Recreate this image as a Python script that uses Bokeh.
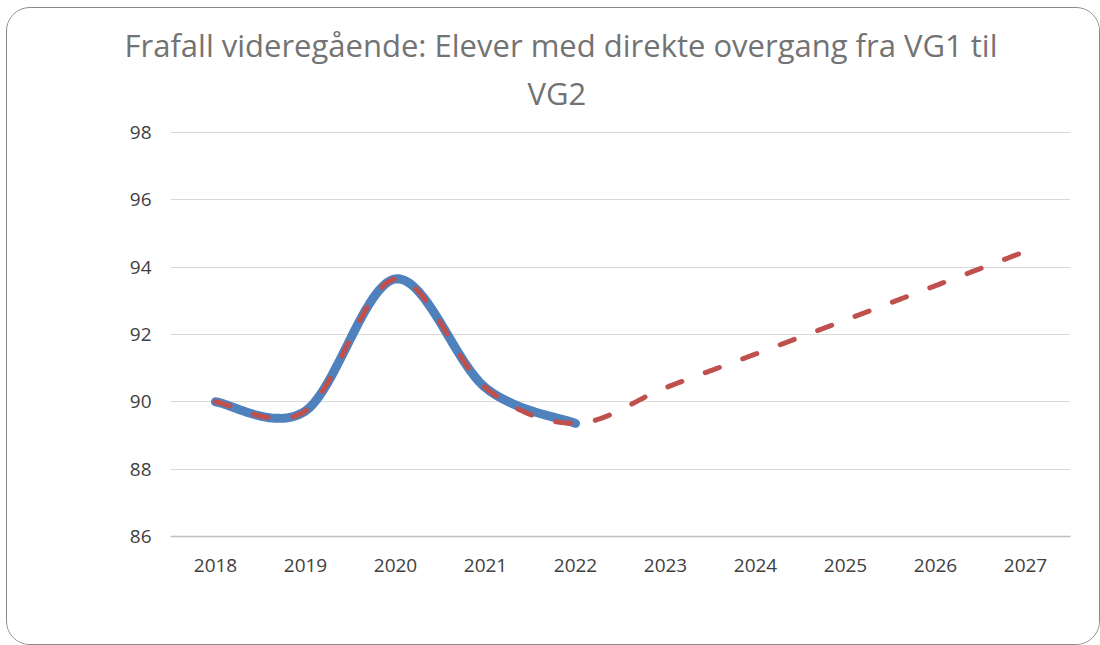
import numpy as np
from bokeh.plotting import figure
from bokeh.models import Range1d, FixedTicker, Title
from bokeh.embed import file_html
from bokeh.resources import INLINE

# ---- data ----
years = ["2018", "2019", "2020", "2021", "2022", "2023", "2024", "2025", "2026", "2027"]
actual = [90.0, 89.73, 93.65, 90.42, 89.36]
trend = [90.0, 89.73, 93.65, 90.42, 89.36, 90.42, 91.42, 92.43, 93.45, 94.47]
y_ticks = [86, 88, 90, 92, 94, 96, 98]
title_lines = ["Frafall videregående: Elever med direkte overgang fra VG1 til", "VG2"]

FONT = "Open Sans"


def smooth(xs, ys, n=40):
    """Excel-like smoothed line: cubic Bezier segments with Catmull-Rom control points."""
    pts = np.column_stack([xs, ys]).astype(float)
    ext = np.vstack([pts[0], pts, pts[-1]])
    out = []
    t = np.linspace(0, 1, n)[:, None]
    for i in range(len(pts) - 1):
        p0, p1, p2, p3 = ext[i], ext[i + 1], ext[i + 2], ext[i + 3]
        c1 = p1 + (p2 - p0) / 6.0
        c2 = p2 - (p3 - p1) / 6.0
        seg = (1 - t) ** 3 * p1 + 3 * (1 - t) ** 2 * t * c1 + 3 * (1 - t) * t ** 2 * c2 + t ** 3 * p2
        out.append(seg if i == 0 else seg[1:])
    arr = np.vstack(out)
    return arr[:, 0], arr[:, 1]


p = figure(width=1094, height=638, output_backend="svg", toolbar_location=None,
           x_range=Range1d(-0.5, len(years) - 0.5), y_range=Range1d(86, 98.03),
           min_border_left=163, min_border_right=31, min_border_top=123, min_border_bottom=110)
p.margin = (7, 0, 0, 6)
p.outline_line_color = None
p.background_fill_color = "white"
p.border_fill_color = "white"
p.styles = {"border": "1.5px solid #8a8a8a", "border-radius": "24px", "overflow": "hidden"}

# axes
p.xaxis.ticker = FixedTicker(ticks=list(range(len(years))))
p.xaxis.major_label_overrides = {i: y for i, y in enumerate(years)}
p.yaxis.ticker = FixedTicker(ticks=y_ticks)
for ax in (p.xaxis[0], p.yaxis[0]):
    ax.major_tick_line_color = None
    ax.minor_tick_line_color = None
    ax.major_label_text_font = FONT
    ax.major_label_text_font_size = "19px"
    ax.major_label_text_color = "#404040"
p.xaxis.axis_line_color = "#bfbfbf"
p.xaxis.axis_line_width = 1.5
p.yaxis.axis_line_color = None
p.xaxis.major_label_standoff = 16
p.yaxis.major_label_standoff = 13

p.xgrid.grid_line_color = None
p.ygrid.grid_line_color = "#d9d9d9"
p.ygrid.grid_line_width = 1.2

# lines
bx, by = smooth(list(range(len(actual))), actual)
p.line(bx, by, line_color="#4F81BD", line_width=9, line_cap="round", line_join="round")
rx, ry = smooth(list(range(len(trend))), trend)
p.line(rx, ry, line_color="#C0504D", line_width=5, line_cap="round", line_join="round",
       line_dash="15 25")

# title: two lines, second one added first (closest to the plot area)
for txt, off, so in [(title_lines[1], 357, 35), (title_lines[0], -46, -26)]:
    p.add_layout(Title(text=txt, align="left", offset=off, text_font=FONT,
                       text_font_size="31px", text_font_style="normal",
                       text_color="#737373", standoff=so), "above")

open("out.html", "w").write(file_html(p, INLINE))
